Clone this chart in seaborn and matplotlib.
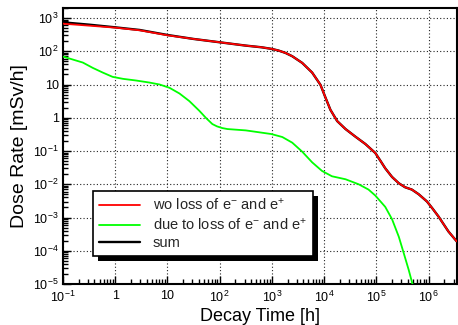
import numpy as np
import pandas as pd
import matplotlib
matplotlib.use("Agg")
import matplotlib.pyplot as plt
import seaborn as sns
from matplotlib.ticker import FixedLocator, FixedFormatter, LogLocator, NullFormatter
from matplotlib.patches import Rectangle
from matplotlib.transforms import IdentityTransform

# ---- data (log10 of time [h] and dose rate [mSv/h]) ----
red_log_time = [-1.0, -0.5, 0.0, 0.47, 1.0, 1.5, 2.0, 2.5, 2.8, 3.0, 3.13, 3.26, 3.39, 3.58,
                3.77, 3.93, 4.03, 4.12, 4.25, 4.41, 4.60, 4.79, 4.98, 5.08, 5.17,
                5.30, 5.43, 5.55, 5.68, 5.81, 5.97, 6.08, 6.19, 6.38, 6.54]
red_log_dose = [2.83, 2.77, 2.71, 2.63, 2.48, 2.37, 2.27, 2.17, 2.12, 2.07, 2.02, 1.95, 1.85, 1.65,
                1.36, 0.99, 0.59, 0.24, -0.10, -0.34, -0.57, -0.79, -1.06, -1.30, -1.52,
                -1.78, -1.97, -2.09, -2.16, -2.30, -2.52, -2.74, -2.97, -3.42, -3.72]

green_log_time = [-1.0, -0.81, -0.62, -0.43, -0.24, -0.05, 0.15, 0.40, 0.65, 0.85,
                  1.04, 1.23, 1.42, 1.61, 1.74, 1.86, 1.95, 2.05, 2.15, 2.5, 2.99, 3.20,
                  3.39, 3.58, 3.77, 3.96, 4.15, 4.41, 4.66, 4.85, 4.98, 5.17, 5.30,
                  5.43, 5.52, 5.62, 5.70]
green_log_dose = [1.84, 1.75, 1.66, 1.50, 1.36, 1.23, 1.17, 1.12, 1.06, 1.00,
                  0.90, 0.73, 0.50, 0.21, -0.01, -0.19, -0.26, -0.31, -0.34, -0.38, -0.49, -0.58,
                  -0.75, -1.02, -1.34, -1.60, -1.76, -1.85, -2.00, -2.16, -2.34, -2.68, -3.05,
                  -3.58, -4.05, -4.58, -5.05]

sum_log_time = red_log_time
sum_log_dose = [2.87, 2.80, 2.72, 2.64, 2.49, 2.37, 2.27, 2.17, 2.12, 2.07, 2.02, 1.95, 1.85, 1.65,
                1.36, 0.99, 0.59, 0.24, -0.10, -0.34, -0.57, -0.79, -1.06, -1.30, -1.52,
                -1.78, -1.97, -2.09, -2.16, -2.30, -2.52, -2.74, -2.97, -3.42, -3.72]

labels = [r"wo loss of e$^{-}$ and e$^{+}$",
          r"due to loss of e$^{-}$ and e$^{+}$",
          "sum"]
colors = ["#ff0000", "#00ff00", "#000000"]

x_ticks = [1e-1, 1, 10, 1e2, 1e3, 1e4, 1e5, 1e6]
x_tick_labels = [r"$10^{-1}$", "1", "10", r"$10^{2}$", r"$10^{3}$", r"$10^{4}$",
                 r"$10^{5}$", r"$10^{6}$"]
y_ticks = [1e-5, 1e-4, 1e-3, 1e-2, 1e-1, 1, 10, 1e2, 1e3]
y_tick_labels = [r"$10^{-5}$", r"$10^{-4}$", r"$10^{-3}$", r"$10^{-2}$", r"$10^{-1}$",
                 "1", "10", r"$10^{2}$", r"$10^{3}$"]

# ---- style ----
sns.set_theme(style="white")
plt.rcParams["font.family"] = ["Liberation Sans", "DejaVu Sans"]
plt.rcParams["mathtext.fontset"] = "custom"
plt.rcParams["mathtext.rm"] = "Liberation Sans"
plt.rcParams["mathtext.it"] = "Liberation Sans"
plt.rcParams["mathtext.default"] = "regular"

fig = plt.figure(figsize=(4.58, 3.25), dpi=100)
ax = fig.add_axes([63 / 458, 1 - 284 / 325, (457 - 63) / 458, (284 - 8) / 325])

df_sum = pd.DataFrame({"t": np.power(10.0, sum_log_time), "d": np.power(10.0, sum_log_dose)})
df_green = pd.DataFrame({"t": np.power(10.0, green_log_time), "d": np.power(10.0, green_log_dose)})
df_red = pd.DataFrame({"t": np.power(10.0, red_log_time), "d": np.power(10.0, red_log_dose)})

sns.lineplot(data=df_sum, x="t", y="d", color=colors[2], lw=1.7, ax=ax, zorder=3)
sns.lineplot(data=df_green, x="t", y="d", color=colors[1], lw=1.3, ax=ax, zorder=4)
sns.lineplot(data=df_red, x="t", y="d", color=colors[0], lw=1.3, ax=ax, zorder=5)

ax.set_xscale("log")
ax.set_yscale("log")
ax.set_xlim(0.1, 3.5e6)
ax.set_ylim(1e-5, 2000)

ax.xaxis.set_major_locator(FixedLocator(x_ticks))
ax.xaxis.set_major_formatter(FixedFormatter(x_tick_labels))
ax.yaxis.set_major_locator(FixedLocator(y_ticks))
ax.yaxis.set_major_formatter(FixedFormatter(y_tick_labels))
ax.xaxis.set_minor_locator(LogLocator(base=10, subs=np.arange(2, 10), numticks=50))
ax.yaxis.set_minor_locator(LogLocator(base=10, subs=np.arange(2, 10), numticks=50))
ax.xaxis.set_minor_formatter(NullFormatter())
ax.yaxis.set_minor_formatter(NullFormatter())

ax.tick_params(axis="both", which="major", direction="in", length=6, width=1,
               color="black", labelsize=9, labelcolor="black",
               bottom=True, left=True, top=False, right=False)
ax.tick_params(axis="x", which="major", pad=4)
ax.tick_params(axis="y", which="major", pad=3)
ax.tick_params(axis="both", which="minor", direction="in", length=3.5, width=1,
               color="black", bottom=True, left=True, top=False, right=False)

ax.grid(True, which="major", color="#222222", linestyle=(0, (1, 2)), linewidth=0.8)
for s in ax.spines.values():
    s.set_color("black")
    s.set_linewidth(1.5)

ax.set_xlabel("Decay Time [h]", fontsize=13, color="black", labelpad=2)
ax.set_ylabel("Dose Rate [mSv/h]", fontsize=14, color="black", labelpad=4)

lines = ax.get_lines()
leg = ax.legend([lines[2], lines[1], lines[0]], labels,
                loc="lower left", bbox_to_anchor=(0.076, 0.101), borderaxespad=0,
                fontsize=10.5, frameon=True, fancybox=False, shadow=False,
                edgecolor="black", framealpha=1, handlelength=2.8,
                labelspacing=0.25, borderpad=0.4, handletextpad=0.9)
leg.get_frame().set_linewidth(1.2)
leg.set_zorder(10)

# black drop shadow behind the legend box
fig.canvas.draw()
bb = leg.get_frame().get_window_extent(fig.canvas.get_renderer())
shadow = Rectangle((bb.x0 + 5, bb.y0 - 5), bb.width, bb.height, transform=IdentityTransform(),
                   facecolor="black", edgecolor="none", zorder=9, clip_on=False)
ax.add_patch(shadow)

fig.savefig("out.png", dpi=100)
